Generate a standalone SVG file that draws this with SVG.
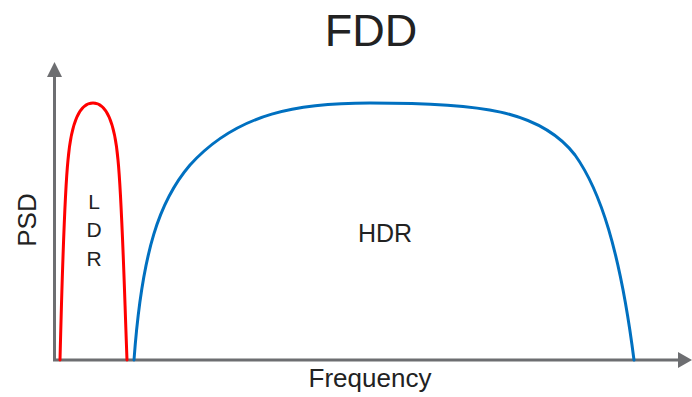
<svg xmlns="http://www.w3.org/2000/svg" width="692" height="397" viewBox="0 0 692 397">
  <style>
    .axis { stroke: #6d6e71; stroke-width: 3; fill: none; }
    .head { fill: #6d6e71; }
    .curve { fill: none; stroke-width: 3; stroke-linecap: round; stroke-linejoin: round; }
    .ldr { stroke: #ff0000; }
    .hdr { stroke: #0070c0; }
    text { font-family: "Liberation Sans", Arial, sans-serif; fill: #222222; }
  </style>
  <rect width="692" height="397" fill="#ffffff"/>

  <!-- title -->
  <text x="371" y="46" font-size="45" text-anchor="middle">FDD</text>

  <!-- axes -->
  <g id="axes">
    <line class="axis" x1="54.5" y1="361" x2="54.5" y2="75"/>
    <polygon class="head" points="47,77 54.5,62 62,77"/>
    <line class="axis" x1="53" y1="360" x2="680" y2="360"/>
    <polygon class="head" points="678,352 692,360 678,368"/>
    <text x="0" y="0" font-size="26" text-anchor="middle" transform="translate(36,220) rotate(-90)">PSD</text>
    <text x="370" y="387" font-size="26" text-anchor="middle">Frequency</text>
  </g>

  <!-- low data-rate band -->
  <g id="ldr">
    <path class="curve ldr" d="M60,360 C62,280 64,200 68,160 C72,115 82,103 93,103 C104,103 114,115 118,160 C122,200 124,280 127,360"/>
    <text x="94" y="209" font-size="21" text-anchor="middle">L</text>
    <text x="94" y="237" font-size="21" text-anchor="middle">D</text>
    <text x="94" y="266" font-size="21" text-anchor="middle">R</text>
  </g>

  <!-- high data-rate band -->
  <g id="hdr">
    <path class="curve hdr" d="M134,360 C142,250 160,200 190,165 C238,112 300,103 370,103 C480,103 540,110 575,155 C600,190 620,250 634,360"/>
    <text x="385" y="242" font-size="25" text-anchor="middle">HDR</text>
  </g>
</svg>
